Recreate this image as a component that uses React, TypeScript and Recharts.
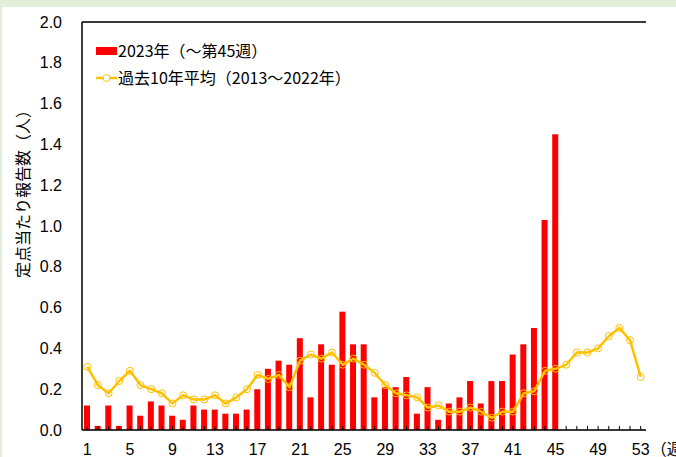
import {
  ComposedChart,
  Bar,
  Line,
  XAxis,
  YAxis,
  CartesianGrid,
  ReferenceLine,
  Legend,
} from 'recharts';

const weeks = Array.from({ length: 53 }, (_, i) => i + 1);

// 2023年 (weeks 1-45)
const cases2023 = [
  0.12, 0.02, 0.12, 0.02, 0.12, 0.07, 0.14, 0.12, 0.07, 0.05,
  0.12, 0.1, 0.1, 0.08, 0.08, 0.1, 0.2, 0.3, 0.34, 0.32,
  0.45, 0.16, 0.42, 0.32, 0.58, 0.42, 0.42, 0.16, 0.21, 0.21,
  0.26, 0.08, 0.21, 0.05, 0.13, 0.16, 0.24, 0.13, 0.24, 0.24,
  0.37, 0.42, 0.5, 1.03, 1.45,
];

// 過去10年平均 (2013-2022)
const avg10y = [
  0.31, 0.22, 0.18, 0.24, 0.29, 0.22, 0.2, 0.18, 0.13, 0.17,
  0.15, 0.15, 0.17, 0.13, 0.16, 0.2, 0.27, 0.25, 0.27, 0.21,
  0.34, 0.37, 0.35, 0.38, 0.32, 0.35, 0.32, 0.28, 0.22, 0.18,
  0.17, 0.16, 0.11, 0.12, 0.09, 0.09, 0.11, 0.09, 0.06, 0.09,
  0.09, 0.18, 0.19, 0.29, 0.3, 0.32, 0.38, 0.38, 0.4, 0.46,
  0.5, 0.44, 0.26,
];

const yTicks = [0, 0.2, 0.4, 0.6, 0.8, 1.0, 1.2, 1.4, 1.6, 1.8, 2.0];

const data = weeks.map((w, i) => ({
  week: w,
  cur: i < cases2023.length ? cases2023[i] : null,
  avg: avg10y[i],
}));

const jp = '"Noto Sans CJK JP", sans-serif';
const num = '"Liberation Sans", Arial, sans-serif';

const WeekTick = (props: any) => {
  const { x, y, payload } = props;
  const w = Number(payload.value);
  return (
    <g>
      <line x1={x} y1={y} x2={x} y2={y - 4} stroke="#000" strokeWidth={1} />
      {(w - 1) % 4 === 0 && (
        <text x={x} y={y + 25} textAnchor="middle" fontSize={16} fontFamily={num} fill="#000">
          {w}
        </text>
      )}
      {w === 53 && (
        <text x={x + 10} y={y + 25} textAnchor="start" fontSize={16} fontFamily={jp} fill="#000">
          （週）
        </text>
      )}
    </g>
  );
};

const renderLegend = () => (
  <div style={{ fontFamily: jp, fontSize: 16, color: '#000', lineHeight: '27px' }}>
    <div style={{ display: 'flex', alignItems: 'center', height: 27 }}>
      <span style={{ display: 'inline-block', width: 21, height: 8, background: '#ff0000', marginRight: 1 }} />
      <span>2023年（～第45週）</span>
    </div>
    <div style={{ display: 'flex', alignItems: 'center', height: 27 }}>
      <svg width={21} height={10} style={{ marginRight: 1 }}>
        <line x1={0} y1={5} x2={21} y2={5} stroke="#ffc000" strokeWidth={2.5} />
        <circle cx={10.5} cy={5} r={3.5} stroke="#ffc000" strokeWidth={1} fill="#fff" />
      </svg>
      <span>過去10年平均（2013～2022年）</span>
    </div>
  </div>
);

export default function App() {
  return (
    <div style={{ position: 'absolute', left: 0, top: 0, width: 676, height: 457, background: '#e2efda', overflow: 'hidden' }}>
      <div style={{ position: 'absolute', left: 2, top: 7, right: 0, bottom: 0, background: '#fff' }} />
      <div style={{ position: 'absolute', left: 0, top: 0 }}>
        <ComposedChart
          width={676}
          height={457}
          data={data}
          margin={{ top: 22, right: 30, bottom: 0, left: 0 }}
          barCategoryGap={0}
        >
          <CartesianGrid horizontal vertical={false} stroke="#d9d9d9" strokeWidth={1.5} />
          <XAxis
            dataKey="week"
            height={27}
            interval={0}
            tickSize={0}
            tickMargin={0}
            tickLine={false}
            tick={<WeekTick />}
            axisLine={{ stroke: '#000', strokeWidth: 1.5 }}
          />
          <YAxis
            yAxisId="left"
            width={82}
            domain={[0, 2]}
            ticks={yTicks}
            tickFormatter={(v: number) => v.toFixed(1)}
            tickSize={0}
            tickMargin={20}
            tickLine={false}
            tick={{ fontSize: 16, fontFamily: num, fill: '#000' }}
            axisLine={{ stroke: '#000', strokeWidth: 1.5 }}
            label={{
              content: () => (
                <text
                  transform="translate(22,190) rotate(-90)"
                  textAnchor="middle"
                  dominantBaseline="central"
                  fontSize={16}
                  fontFamily={jp}
                  fill="#000"
                >
                  定点当たり報告数（人）
                </text>
              ),
            }}
          />
          <YAxis
            yAxisId="right"
            orientation="right"
            width={0}
            domain={[0, 2]}
            tick={false}
            tickLine={false}
            axisLine={{ stroke: '#000', strokeWidth: 1.5 }}
          />
          <ReferenceLine yAxisId="left" y={2} stroke="#000" strokeWidth={1.5} />
          <Legend
            verticalAlign="middle"
            align="center"
            layout="horizontal"
            content={renderLegend}
            wrapperStyle={{ top: 37, left: 96, width: 'auto' }}
          />
          <Bar yAxisId="left" dataKey="cur" fill="#ff0000" barSize={6} isAnimationActive={false} />
          <Line
            yAxisId="left"
            type="linear"
            dataKey="avg"
            stroke="#ffc000"
            strokeWidth={2.5}
            dot={{ r: 3.5, stroke: '#ffc000', strokeWidth: 1, fill: 'none' }}
            activeDot={false}
            isAnimationActive={false}
          />
        </ComposedChart>
      </div>
    </div>
  );
}
